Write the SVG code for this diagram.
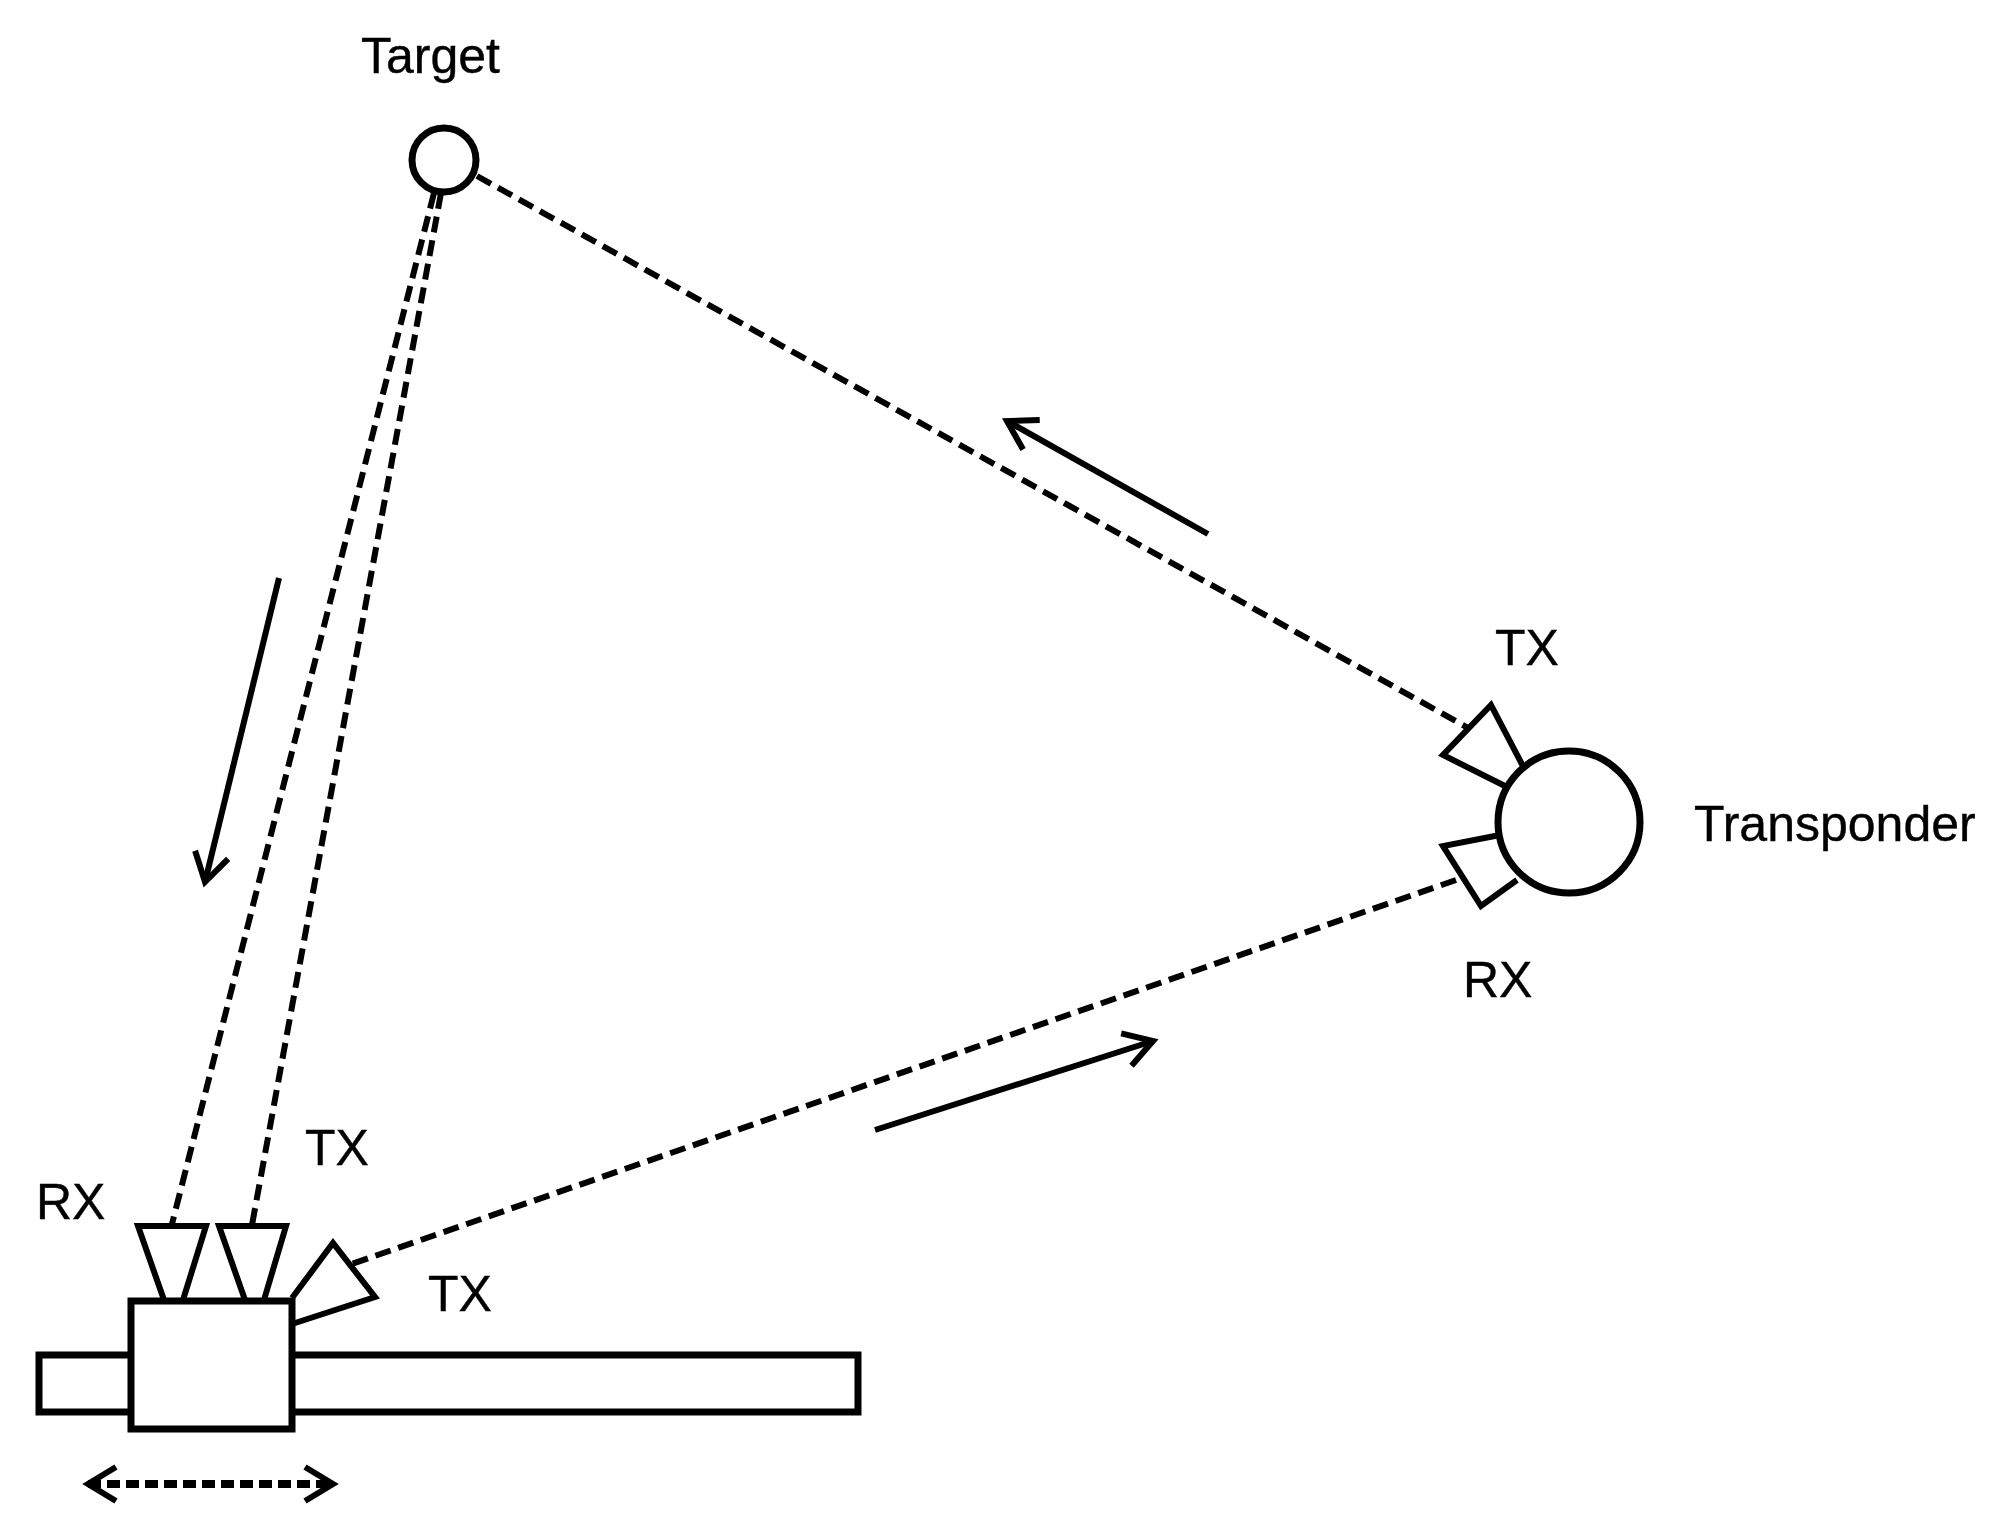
<svg xmlns="http://www.w3.org/2000/svg" width="2008" height="1531" viewBox="0 0 2008 1531">
<style>
.s{fill:#fff;stroke:#000;stroke-width:7;stroke-linejoin:miter}
.t{fill:none;stroke:#000;stroke-width:6;stroke-linejoin:miter}
.d{fill:none;stroke:#000;stroke-width:6;stroke-dasharray:16 8}
.a{fill:none;stroke:#000;stroke-width:6;marker-end:url(#h)}
text{font-family:"Liberation Sans",Arial,sans-serif;font-size:50px;fill:#000;stroke:#000;stroke-width:.4}
</style>
<defs>
<marker id="h" markerUnits="userSpaceOnUse" markerWidth="44" markerHeight="50" refX="30" refY="20" orient="auto-start-reverse" viewBox="0 0 44 40" overflow="visible">
<path d="M2 3L30 20L2 37" fill="none" stroke="#000" stroke-width="6"/>
</marker>
</defs>
<rect width="2008" height="1531" fill="#fff"/>
<g id="connectors">
<path class="d" d="M434 193L172 1224"/>
<path class="d" d="M441 193L252 1225"/>
<path class="d" d="M477 176L1470 729"/>
<path class="d" d="M1456 880L346 1266"/>
<path class="a" d="M1208 534L1007 421"/>
<path class="a" d="M279 578L205 882"/>
<path class="a" d="M875 1130L1153 1041"/>
<path class="d" d="M88 1484H333" style="stroke-width:8;stroke-dasharray:13 6;marker-start:url(#h);marker-end:url(#h)"/>
</g>
<g id="track"><rect class="s" x="39" y="1355" width="819" height="57"/></g>
<g id="carriage"><rect class="s" x="131" y="1301" width="161" height="128"/></g>
<g id="rx-antenna"><path class="t" d="M164 1300L138 1226H206L183 1300"/></g>
<g id="tx-antenna"><path class="t" d="M245 1300L219 1226H286L264 1300"/></g>
<g id="tx-side-antenna"><path class="t" d="M292 1298L333 1243L375 1297L292 1324"/></g>
<g id="target"><circle class="s" cx="444" cy="160" r="32"/><text x="361" y="73">Target</text></g>
<g id="transponder">
<path class="t" d="M1525 770L1491 705L1443 755L1505 786"/>
<path class="t" d="M1500 835L1443 846L1481 906L1517 880"/>
<circle class="s" cx="1569" cy="822" r="71"/>
<text x="1694" y="841">Transponder</text>
</g>
<g id="labels">
<text x="1495" y="665">TX</text>
<text x="1463" y="997">RX</text>
<text x="305" y="1165">TX</text>
<text x="36" y="1219">RX</text>
<text x="428" y="1311">TX</text>
</g>
</svg>
